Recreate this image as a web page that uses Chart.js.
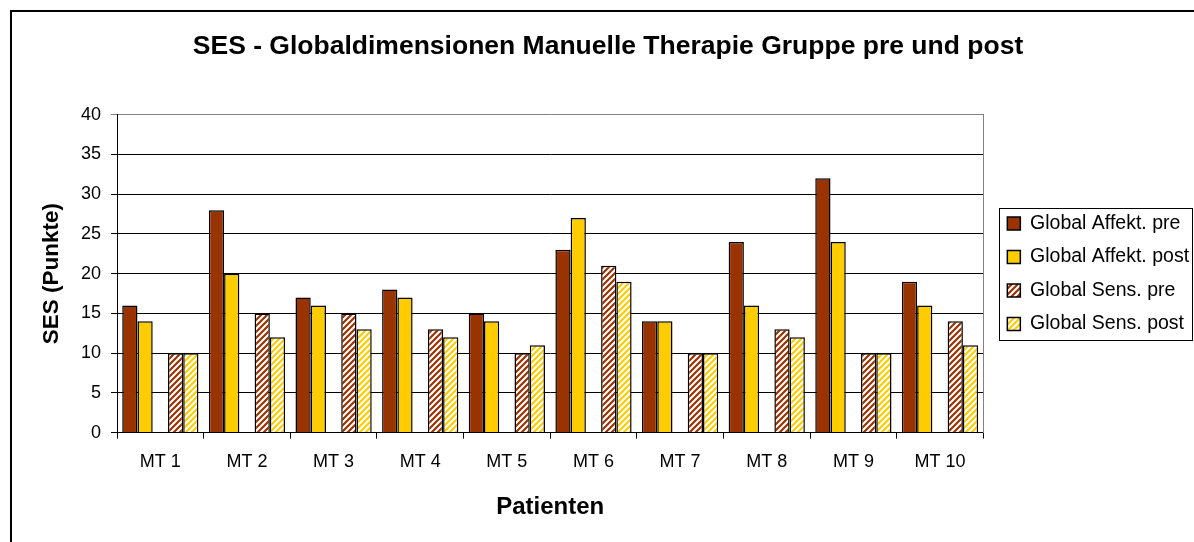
<!DOCTYPE html>
<html>
<head>
<meta charset="utf-8">
<script src="https://cdn.jsdelivr.net/npm/chart.js@4/dist/chart.umd.min.js"></script>
<style>
  html, body { margin: 0; padding: 0; background: #fff; overflow: hidden; }
  #c { display: block; }
</style>
</head>
<body>
<canvas id="c" width="1194" height="542"></canvas>
<script>
const categories = ['MT 1', 'MT 2', 'MT 3', 'MT 4', 'MT 5', 'MT 6', 'MT 7', 'MT 8', 'MT 9', 'MT 10'];
const affektPre  = [16, 28, 17, 18, 15, 23, 14, 24, 32, 19];
const affektPost = [14, 20, 16, 17, 14, 27, 14, 16, 24, 16];
const sensPre    = [10, 15, 15, 13, 10, 21, 10, 13, 10, 14];
const sensPost   = [10, 12, 13, 12, 11, 19, 10, 12, 10, 11];
const seriesLabels = ['Global Affekt. pre', 'Global Affekt. post', 'Global Sens. pre', 'Global Sens. post'];
const yTicks = [0, 5, 10, 15, 20, 25, 30, 35, 40];

const BROWN = '#993300';
const YELLOW = '#FFCC00';
const FONT = "'Liberation Sans', Arial, sans-serif";

function hatch(color) {
  const s = 6;
  const cv = document.createElement('canvas');
  cv.width = s; cv.height = s;
  const g = cv.getContext('2d');
  g.fillStyle = '#ffffff';
  g.fillRect(0, 0, s, s);
  g.strokeStyle = color;
  g.lineWidth = 2.2;
  g.beginPath();
  for (let k = -1; k <= 1; k++) {
    g.moveTo(k * s - 1, s + 1);
    g.lineTo(k * s + s + 1, -1);
  }
  g.stroke();
  return g.createPattern(cv, 'repeat');
}

const framePlugin = {
  id: 'frame',
  afterLayout(chart) {
    const lg = chart.legend;
    if (lg) { lg.right = chart.width; lg.width = lg.right - lg.left; }
  },
  beforeDraw(chart) {
    const ctx = chart.ctx;
    ctx.save();
    ctx.fillStyle = '#fff';
    ctx.fillRect(0, 0, chart.width, chart.height);
    ctx.strokeStyle = '#000';
    ctx.lineWidth = 2;
    ctx.strokeRect(11, 11, 1400, 800);
    ctx.restore();
  },
  afterDraw(chart) {
    const hb = chart.legend && chart.legend.legendHitBoxes;
    if (!hb || !hb.length) return;
    let x0 = Infinity, y0 = Infinity, y1 = -Infinity;
    hb.forEach(b => {
      x0 = Math.min(x0, b.left);
      y0 = Math.min(y0, b.top); y1 = Math.max(y1, b.top + b.height);
    });
    const ctx = chart.ctx;
    ctx.save();
    ctx.strokeStyle = '#000';
    ctx.lineWidth = 1;
    const right = chart.width - 2;
    const left = Math.round(x0 - 8);
    ctx.strokeRect(left + 0.5, Math.round(y0 - 6) + 0.5, right - left, Math.round(y1 - y0 + 12));
    ctx.restore();
  }
};

const barCommon = { borderColor: '#000', borderWidth: 1.5, barPercentage: 1.0, categoryPercentage: 0.88 };

new Chart(document.getElementById('c'), {
  type: 'bar',
  data: {
    labels: categories,
    datasets: [
      Object.assign({ label: seriesLabels[0], data: affektPre, backgroundColor: BROWN }, barCommon),
      Object.assign({ label: seriesLabels[1], data: affektPost, backgroundColor: YELLOW }, barCommon),
      Object.assign({ label: '', data: categories.map(() => null), backgroundColor: 'rgba(0,0,0,0)' }, barCommon),
      Object.assign({ label: seriesLabels[2], data: sensPre, backgroundColor: hatch(BROWN) }, barCommon),
      Object.assign({ label: seriesLabels[3], data: sensPost, backgroundColor: hatch(YELLOW) }, barCommon)
    ]
  },
  options: {
    responsive: false,
    animation: false,
    devicePixelRatio: 1,
    layout: { padding: { left: 30, right: 8, top: 0, bottom: 20 } },
    plugins: {
      title: {
        display: true,
        text: 'SES - Globaldimensionen Manuelle Therapie Gruppe pre und post',
        color: '#000',
        font: { family: FONT, size: 26.5, weight: 'bold' },
        padding: { top: 31, bottom: 52 }
      },
      legend: {
        position: 'right',
        align: 'center',
        fullSize: false,
        labels: {
          color: '#000',
          font: { family: FONT, size: 19.5 },
          boxWidth: 13,
          boxHeight: 13,
          padding: 14,
          filter: (item) => item.datasetIndex !== 2
        }
      },
      tooltip: { enabled: false }
    },
    scales: {
      x: {
        grid: { display: true, drawOnChartArea: false, drawTicks: true, tickLength: 6, color: '#000', offset: true },
        border: { display: true, color: '#000', width: 1 },
        ticks: { color: '#000', font: { family: FONT, size: 18 }, padding: 13, maxRotation: 0 },
        title: {
          display: true, text: 'Patienten', color: '#000',
          font: { family: FONT, size: 24, weight: 'bold' },
          padding: { top: 7, bottom: 0 }
        }
      },
      y: {
        min: 0, max: 40,
        afterBuildTicks: (scale) => { scale.ticks = yTicks.map(v => ({ value: v })); },
        grid: {
          color: (c) => (c.tick && c.tick.value === 40 ? '#808080' : '#000'),
          lineWidth: 1, tickLength: 6, drawTicks: true
        },
        border: { display: true, color: '#000', width: 1 },
        ticks: { color: '#000', font: { family: FONT, size: 18 }, padding: 10 },
        title: {
          display: true, text: 'SES (Punkte)', color: '#000',
          font: { family: FONT, size: 22.5, weight: 'bold' },
          padding: { top: 8, bottom: 6 }
        }
      },
      y2: {
        position: 'right',
        min: 0, max: 40,
        grid: { display: false, drawTicks: false },
        border: { display: true, color: '#808080', width: 1 },
        ticks: { display: false },
        afterFit: (scale) => { scale.width = 10; }
      }
    }
  },
  plugins: [framePlugin]
});
</script>
</body>
</html>
